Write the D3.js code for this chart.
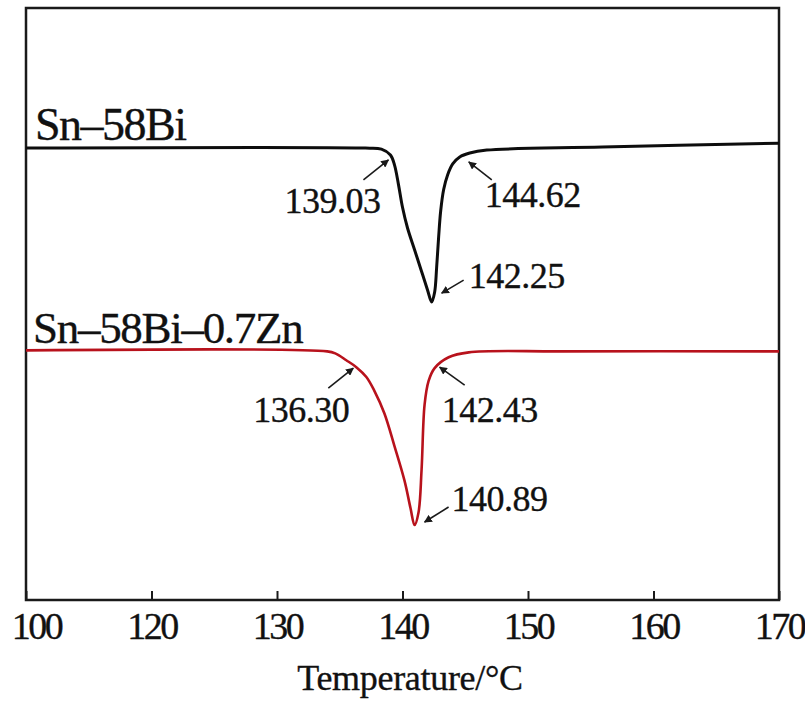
<!DOCTYPE html>
<html>
<head>
<meta charset="utf-8">
<script src="https://cdn.jsdelivr.net/npm/d3@7"></script>
<style>
  body { margin: 0; background: #fff; }
  text { font-family: "Liberation Serif", "DejaVu Serif", serif; fill: #111; stroke: #111; stroke-width: 0.35px; }
</style>
</head>
<body>
<div id="chart"></div>
<script>
// DSC curves, Sn-58Bi and Sn-58Bi-0.7Zn (arbitrary heat-flow units)
var tickValues = [110, 120, 130, 140, 150, 160, 170];
var tickLabels = ["100", "120", "130", "140", "150", "160", "170"];

var snBiTemp = [110, 137.04, 138.32, 139.04, 139.36, 139.68, 140.00, 140.40, 140.96, 141.52, 142.00,
                142.32, 142.56, 142.72, 142.88, 143.04, 143.28, 143.60, 144.00, 144.56, 145.36,
                146.72, 155.92, 170];
var snBiFlow = [0.08, 0.08, 0.07, 0.01, -0.09, -0.29, -0.52, -0.73, -0.95, -1.17, -1.36,
                -1.48, -1.38, -1.13, -0.82, -0.56, -0.34, -0.19, -0.08, -0.01, 0.03,
                0.06, 0.09, 0.13];

var snBiZnTemp = [110, 134.0, 134.64, 135.52, 136.32, 137.12, 137.76, 138.56, 139.36, 140.16, 140.64,
                  140.96, 141.28, 141.52, 141.76, 142.08, 142.56, 143.68, 145.28, 152.72, 170];
var snBiZnFlow = [-1.97, -1.98, -2.00, -2.07, -2.14, -2.24, -2.38, -2.61, -2.94, -3.29, -3.57,
                  -3.74, -3.61, -3.18, -2.52, -2.28, -2.15, -2.04, -1.99, -1.98, -1.98];

var seriesNames = ["Sn\u201358Bi", "Sn\u201358Bi\u20130.7Zn"];

// annotated temperatures and where their arrows point (temperature, heat flow)
var noteText = ["139.03", "144.62", "142.25", "136.30", "142.43", "140.89"];
var noteTipT = [138.88, 145.28, 143.12, 136.08, 142.96, 141.76];
var noteTipV = [-0.04, -0.06, -1.39, -2.15, -2.14, -3.71];

var width = 805, height = 701;
var margin = {top: 8, right: 26, bottom: 101, left: 26};

var svg = d3.select("#chart").append("svg")
  .attr("width", width)
  .attr("height", height);

var x = d3.scaleLinear().domain([110, 170]).range([margin.left, width - margin.right]);
var y = d3.scaleLinear().domain([-4.5, 1.5]).range([height - margin.bottom, margin.top]);

var line = d3.line()
  .x(function(d) { return x(d[0]); })
  .y(function(d) { return y(d[1]); })
  .curve(d3.curveCatmullRom.alpha(0.5));

// frame
svg.append("rect")
  .attr("x", x(110)).attr("y", margin.top)
  .attr("width", x(170) - x(110))
  .attr("height", height - margin.bottom - margin.top)
  .attr("fill", "none")
  .attr("stroke", "#1a1a1a")
  .attr("stroke-width", 2.5);

// bottom axis, ticks pointing inward
var xAxis = d3.axisBottom(x)
  .tickValues(tickValues)
  .tickSizeInner(-9)
  .tickSizeOuter(0)
  .tickPadding(0)
  .tickFormat(function(d, i) { return tickLabels[i]; });

var ax = svg.append("g")
  .attr("transform", "translate(0," + (height - margin.bottom) + ")")
  .call(xAxis);
ax.select(".domain").remove();
ax.selectAll(".tick line").attr("stroke", "#1a1a1a").attr("stroke-width", 2);
ax.selectAll(".tick text")
  .attr("y", 39)
  .attr("dy", 0)
  .style("font-family", "'Liberation Serif', serif")
  .style("font-size", "38px")
  .style("letter-spacing", "-2.5px")
  .attr("fill", "#111")
  .attr("dx", function(d, i) { return i === 0 ? 10 : 0; });

svg.append("text")
  .attr("x", 410)
  .attr("y", 690)
  .attr("text-anchor", "middle")
  .style("font-size", "36px")
  .style("letter-spacing", "-0.3px")
  .text("Temperature/\u00B0C");

// curves
var snBi = snBiTemp.map(function(t, i) { return [t, snBiFlow[i]]; });
var snBiZn = snBiZnTemp.map(function(t, i) { return [t, snBiZnFlow[i]]; });

svg.append("path")
  .datum(snBi)
  .attr("d", line)
  .attr("fill", "none")
  .attr("stroke", "#0d0d0d")
  .attr("stroke-width", 3);

svg.append("path")
  .datum(snBiZn)
  .attr("d", line)
  .attr("fill", "none")
  .attr("stroke", "#b8121c")
  .attr("stroke-width", 2.6);

// series labels sit just above each baseline
svg.append("text")
  .attr("x", 35).attr("y", y(snBiFlow[0]) - 8)
  .style("font-size", "46px")
  .style("letter-spacing", "-1.5px")
  .text(seriesNames[0]);

svg.append("text")
  .attr("x", 33).attr("y", y(snBiZnFlow[0]) - 7)
  .style("font-size", "45px")
  .style("letter-spacing", "-1.3px")
  .text(seriesNames[1]);

// annotation arrows: tail offset and label offset (px) from the arrow tip
var noteLayout = [
  {tail: [-25, 20], label: [-104, 53]},
  {tail: [23, 18],  label: [16, 45]},
  {tail: [22, -13], label: [27, -5]},
  {tail: [-25, 20], label: [-100, 54]},
  {tail: [25, 18],  label: [2, 55]},
  {tail: [24, -15], label: [27, -11]}
];

svg.append("defs").append("marker")
  .attr("id", "head")
  .attr("viewBox", "0 0 10 10")
  .attr("refX", 9).attr("refY", 5)
  .attr("markerWidth", 5).attr("markerHeight", 5)
  .attr("orient", "auto")
  .append("path")
  .attr("d", "M0,0L10,5L0,10z")
  .attr("fill", "#1a1a1a");

noteText.forEach(function(txt, i) {
  var tx = x(noteTipT[i]), ty = y(noteTipV[i]);
  var L = noteLayout[i];
  svg.append("line")
    .attr("x1", tx + L.tail[0]).attr("y1", ty + L.tail[1])
    .attr("x2", tx).attr("y2", ty)
    .attr("stroke", "#1a1a1a")
    .attr("stroke-width", 1.6)
    .attr("marker-end", "url(#head)");
  svg.append("text")
    .attr("x", tx + L.label[0])
    .attr("y", ty + L.label[1])
    .style("font-size", "36px")
    .style("letter-spacing", "-0.5px")
    .text(txt);
});
</script>
</body>
</html>
